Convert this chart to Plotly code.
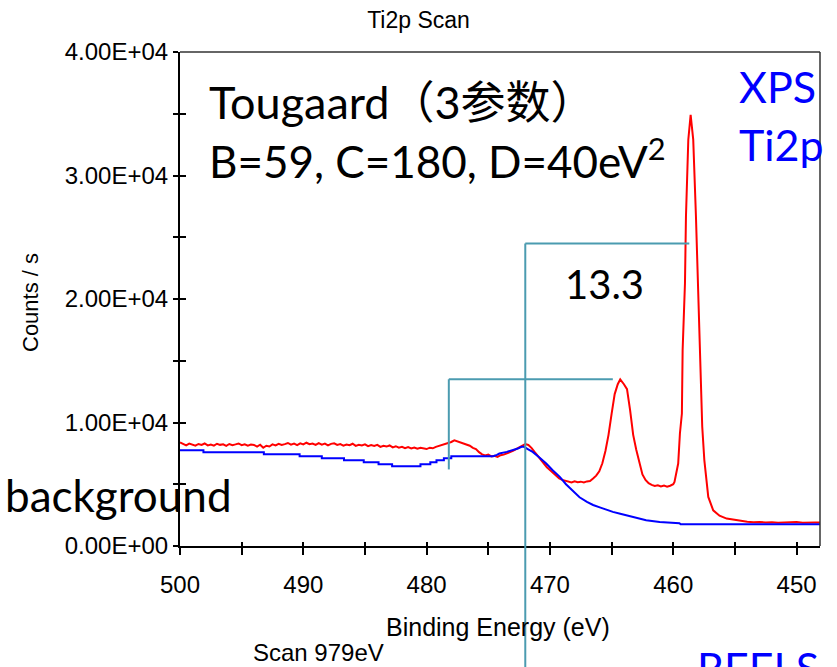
import plotly.graph_objects as go

# Ti 2p spectrum (binding energy in eV, counts per second)
red_be = [
    500.0, 499.75, 499.5, 499.25, 499.0, 498.75, 498.5, 498.25, 498.0, 497.75,
    497.5, 497.25, 497.0, 496.75, 496.5, 496.25, 496.0, 495.75, 495.5, 495.25,
    495.0, 494.75, 494.5, 494.25, 494.0, 493.75, 493.5, 493.25, 493.0, 492.75,
    492.5, 492.25, 492.0, 491.75, 491.5, 491.25, 491.0, 490.75, 490.5, 490.25,
    490.0, 489.75, 489.5, 489.25, 489.0, 488.75, 488.5, 488.25, 488.0, 487.75,
    487.5, 487.25, 487.0, 486.75, 486.5, 486.25, 486.0, 485.75, 485.5, 485.25,
    485.0, 484.75, 484.5, 484.25, 484.0, 483.75, 483.5, 483.25, 483.0, 482.75,
    482.5, 482.25, 482.0, 481.75, 481.5, 481.25, 481.0, 480.75, 480.5, 480.25,
    480.0, 479.75, 479.5, 479.25, 479.0, 478.75, 478.5, 478.25, 478.0, 477.75,
    477.5, 477.25, 477.0, 476.75, 476.5, 476.25, 476.0,
    475.75, 475.5, 475.25, 475.0, 474.75, 474.5, 474.25, 474.0, 473.75, 473.5,
    473.25, 473.0, 472.75, 472.5, 472.25, 472.0, 471.75, 471.5, 471.25, 471.0,
    470.75, 470.5, 470.25, 470.0, 469.75, 469.5, 469.25, 469.0, 468.75, 468.5,
    468.25, 468.0, 467.75, 467.5, 467.25, 467.0, 466.75, 466.5, 466.25, 466.0,
    465.75, 465.5, 465.25, 465.0, 464.75, 464.5, 464.3, 464.0, 463.75, 463.5,
    463.25, 463.0, 462.75, 462.5, 462.25, 462.0, 461.75, 461.5, 461.25, 461.0,
    460.75, 460.5, 460.25, 460.0, 459.9, 459.78, 459.6, 459.46, 459.3, 459.24,
    459.05, 458.97, 458.78, 458.59, 458.38, 458.16, 457.97, 457.78, 457.65, 457.48,
    457.16, 456.76, 456.25, 455.67, 455.0, 454.6, 454.0, 453.5, 453.0, 452.5,
    452.0, 451.5, 451.0, 450.5, 450.0, 449.5, 449.0, 448.5, 448.1,
]
red_counts = [
    8380, 8250, 8150, 8290, 8200, 8120, 8260, 8180, 8300, 8150,
    8220, 8130, 8280, 8190, 8240, 8110, 8260, 8170, 8230, 8300,
    8160, 8240, 8130, 8210, 8180, 8050, 8200, 7950, 8120, 8060,
    8230, 8150, 8280, 8190, 8250, 8340, 8200, 8290, 8170, 8310,
    8220, 8360, 8240, 8300, 8180, 8330, 8210, 8290, 8150, 8270,
    8320, 8190, 8250, 8130, 8220, 8160, 8280, 8110, 8200, 8140,
    8230, 8080, 8170, 8100, 8190, 8020, 8110, 8050, 8140, 7990,
    8080, 7960, 8030, 7920, 8010, 7900, 7980, 7880, 7960, 7900,
    7850, 7960, 7910, 8030, 8100, 8180, 8260, 8300, 8420, 8550,
    8460, 8400, 8300, 8200, 8120, 7950, 7850,
    7600, 7420, 7330, 7400, 7250, 7310, 7220, 7350, 7400, 7480,
    7600, 7700, 7850, 7980, 8100, 8250, 8180, 7950, 7620, 7300,
    6950, 6650, 6380, 6150, 5900, 5680, 5480, 5350, 5280, 5230,
    5150, 5240, 5170, 5210, 5140, 5230, 5260, 5460, 5700, 6050,
    6700, 7700, 9000, 10700, 12300, 13100, 13490, 13100, 12700, 11000,
    9000, 7800, 6750, 5800, 5350, 5080, 4950, 4870, 4920, 4820,
    4890, 4810, 4880, 5000, 5190, 5870, 6680, 9110, 10730, 15870,
    21280, 26680, 32900, 34920, 32900, 26680, 19920, 14510, 9650, 6950,
    3970, 2890, 2450, 2220, 2100, 2030, 1960, 1920, 1950, 1900,
    1930, 1890, 1920, 1900, 1940, 1890, 1920, 1900, 1910,
]

# Tougaard background: stepped plateau, then a smooth edge
bg_be = [
    500.0, 498.1, 498.1, 493.2, 493.2, 490.3, 490.3, 488.5, 488.5, 486.7,
    486.7, 485.1, 485.1, 483.9, 483.9, 482.8, 482.8, 480.5, 480.5, 479.7,
    479.7, 479.2, 479.2, 478.6, 478.6, 478.0, 478.0, 474.6,
    474.3, 474.1, 473.5, 473.0, 472.6, 472.3, 472.1, 471.8, 471.4, 470.9,
    470.3, 469.8, 469.2, 468.7, 468.1, 467.6, 467.0, 466.5, 465.9, 465.4,
    464.9, 464.3, 463.8, 463.0, 462.2, 461.1, 459.5, 459.4, 448.1,
]
bg_counts = [
    7760, 7760, 7590, 7590, 7430, 7430, 7260, 7260, 7110, 7110,
    6950, 6950, 6780, 6780, 6620, 6620, 6460, 6460, 6620, 6620,
    6780, 6780, 6950, 6950, 7110, 7110, 7270, 7270,
    7380, 7490, 7620, 7760, 7900, 8030, 8030, 7850, 7620, 7200,
    6680, 6150, 5600, 5000, 4380, 3950, 3570, 3320, 3110, 2920,
    2760, 2610, 2490, 2300, 2080, 1950, 1850, 1760, 1760,
]

# Peak positions and their energy-loss partners (eV), marker heights (counts)
peak_be = [458.7, 464.9]
loss_spacing = 13.3
marker_level = [24500, 13500]
marker_bottom = [0, 6200]

y_tickvals = [0, 10000, 20000, 30000, 40000]
y_ticktext = ["0.00E+00", "1.00E+04", "2.00E+04", "3.00E+04", "4.00E+04"]
x_tickvals = [500, 490, 480, 470, 460, 450]

TEAL = "#4b9bb0"
SANS = "Liberation Sans, Arial, sans-serif"
AX_FONT = dict(family=SANS, size=24, color="black")
BIG = "Lato, 'Noto Sans CJK SC', sans-serif"

fig = go.Figure()
fig.add_trace(go.Scatter(x=red_be, y=red_counts, mode="lines",
                         line=dict(color="#ff0000", width=2), showlegend=False))
fig.add_trace(go.Scatter(x=bg_be, y=bg_counts, mode="lines",
                         line=dict(color="#0000ff", width=2), showlegend=False))

# overlay axes give the inward half of each tick
fig.add_trace(go.Scatter(x=[None], y=[None], xaxis="x2", yaxis="y2", showlegend=False))

xr = [500, 448.1]
yr = [0, 40000]
fig.update_layout(
    width=837, height=667,
    margin=dict(l=180, r=17, t=52, b=121),
    paper_bgcolor="white", plot_bgcolor="white",
    font=dict(family=SANS, color="black"),
    title=dict(text="Ti2p Scan", x=0.5, xref="container", y=0.97, yref="container",
               xanchor="center", yanchor="middle",
               font=dict(family=SANS, size=23, color="black")),
    xaxis=dict(range=xr, tickvals=x_tickvals, ticks="outside", ticklen=7, tickwidth=2,
               tickcolor="black", showline=True, linecolor="black", linewidth=2,
               showgrid=False, zeroline=False, tickfont=AX_FONT, ticklabelstandoff=9,
               minor=dict(dtick=5, tick0=0, ticks="outside", ticklen=7, tickwidth=2,
                          tickcolor="black", showgrid=False)),
    yaxis=dict(range=yr, tickvals=y_tickvals, ticktext=y_ticktext, ticks="outside",
               ticklen=5, tickwidth=2, tickcolor="black", showline=True,
               linecolor="black", linewidth=2, showgrid=False, zeroline=False,
               tickfont=AX_FONT,
               minor=dict(dtick=5000, tick0=0, ticks="outside", ticklen=5, tickwidth=2,
                          tickcolor="black", showgrid=False)),
    xaxis2=dict(range=xr, overlaying="x", anchor="y", side="bottom", ticks="inside",
                tickvals=x_tickvals, ticklen=4, tickwidth=2, tickcolor="black",
                showticklabels=False, showgrid=False, zeroline=False, showline=False,
                minor=dict(dtick=5, tick0=0, ticks="inside", ticklen=4, tickwidth=2,
                           tickcolor="black", showgrid=False)),
    yaxis2=dict(range=yr, overlaying="y", anchor="x", side="left", ticks="inside",
                tickvals=y_tickvals, ticklen=6, tickwidth=2, tickcolor="black",
                showticklabels=False, showgrid=False, zeroline=False, showline=False,
                minor=dict(dtick=5000, tick0=0, ticks="inside", ticklen=6, tickwidth=2,
                           tickcolor="black", showgrid=False)),
)

# thin frame on the top and right
fig.add_shape(type="line", xref="paper", yref="paper", x0=0, x1=1, y0=1, y1=1,
              line=dict(color="#333333", width=1.5))
fig.add_shape(type="line", xref="paper", yref="paper", x0=1, x1=1, y0=0, y1=1,
              line=dict(color="#333333", width=1.5))

# energy-loss markers
for pk, lvl, bot in zip(peak_be, marker_level, marker_bottom):
    loss = pk + loss_spacing
    fig.add_shape(type="line", xref="x", yref="y", x0=loss, x1=pk, y0=lvl, y1=lvl,
                  line=dict(color=TEAL, width=2))
    fig.add_shape(type="line", xref="x", yref="y", x0=loss, x1=loss, y0=bot, y1=lvl,
                  line=dict(color=TEAL, width=2))
# the first marker continues below the axis
fig.add_shape(type="line", xref="x", yref="paper", x0=peak_be[0] + loss_spacing,
              x1=peak_be[0] + loss_spacing, y0=-0.26, y1=0,
              line=dict(color=TEAL, width=2))

def note(text, px, py, size, color="black", family=BIG, xanchor="left",
         yanchor="middle", angle=0):
    fig.add_annotation(text=text, xref="paper", yref="paper",
                       x=(px - 180) / 640, y=(546 - py) / 494,
                       xanchor=xanchor, yanchor=yanchor, showarrow=False,
                       textangle=angle, font=dict(family=family, size=size, color=color))

note("Tougaard（3参数）", 207, 102, 45)
note("B=59, C=180, D=40eV<sup>2</sup>", 207, 158, 44)
note(f"{loss_spacing}", 563, 284, 40)
note("XPS", 737, 86, 43, color="#0000ff")
note("Ti2p", 737, 145, 43, color="#0000ff")
note("background", 3, 495, 44)
note("REELS", 695, 640, 43, color="#0000ff", yanchor="top")
note("Binding Energy (eV)", 498, 627, 25, family=SANS, xanchor="center")
note("Scan 979eV", 318, 652, 24, family=SANS, xanchor="center")
note("Counts / s", 30, 303, 22, family=SANS, xanchor="center", angle=-90)

fig.write_html("out.html")
